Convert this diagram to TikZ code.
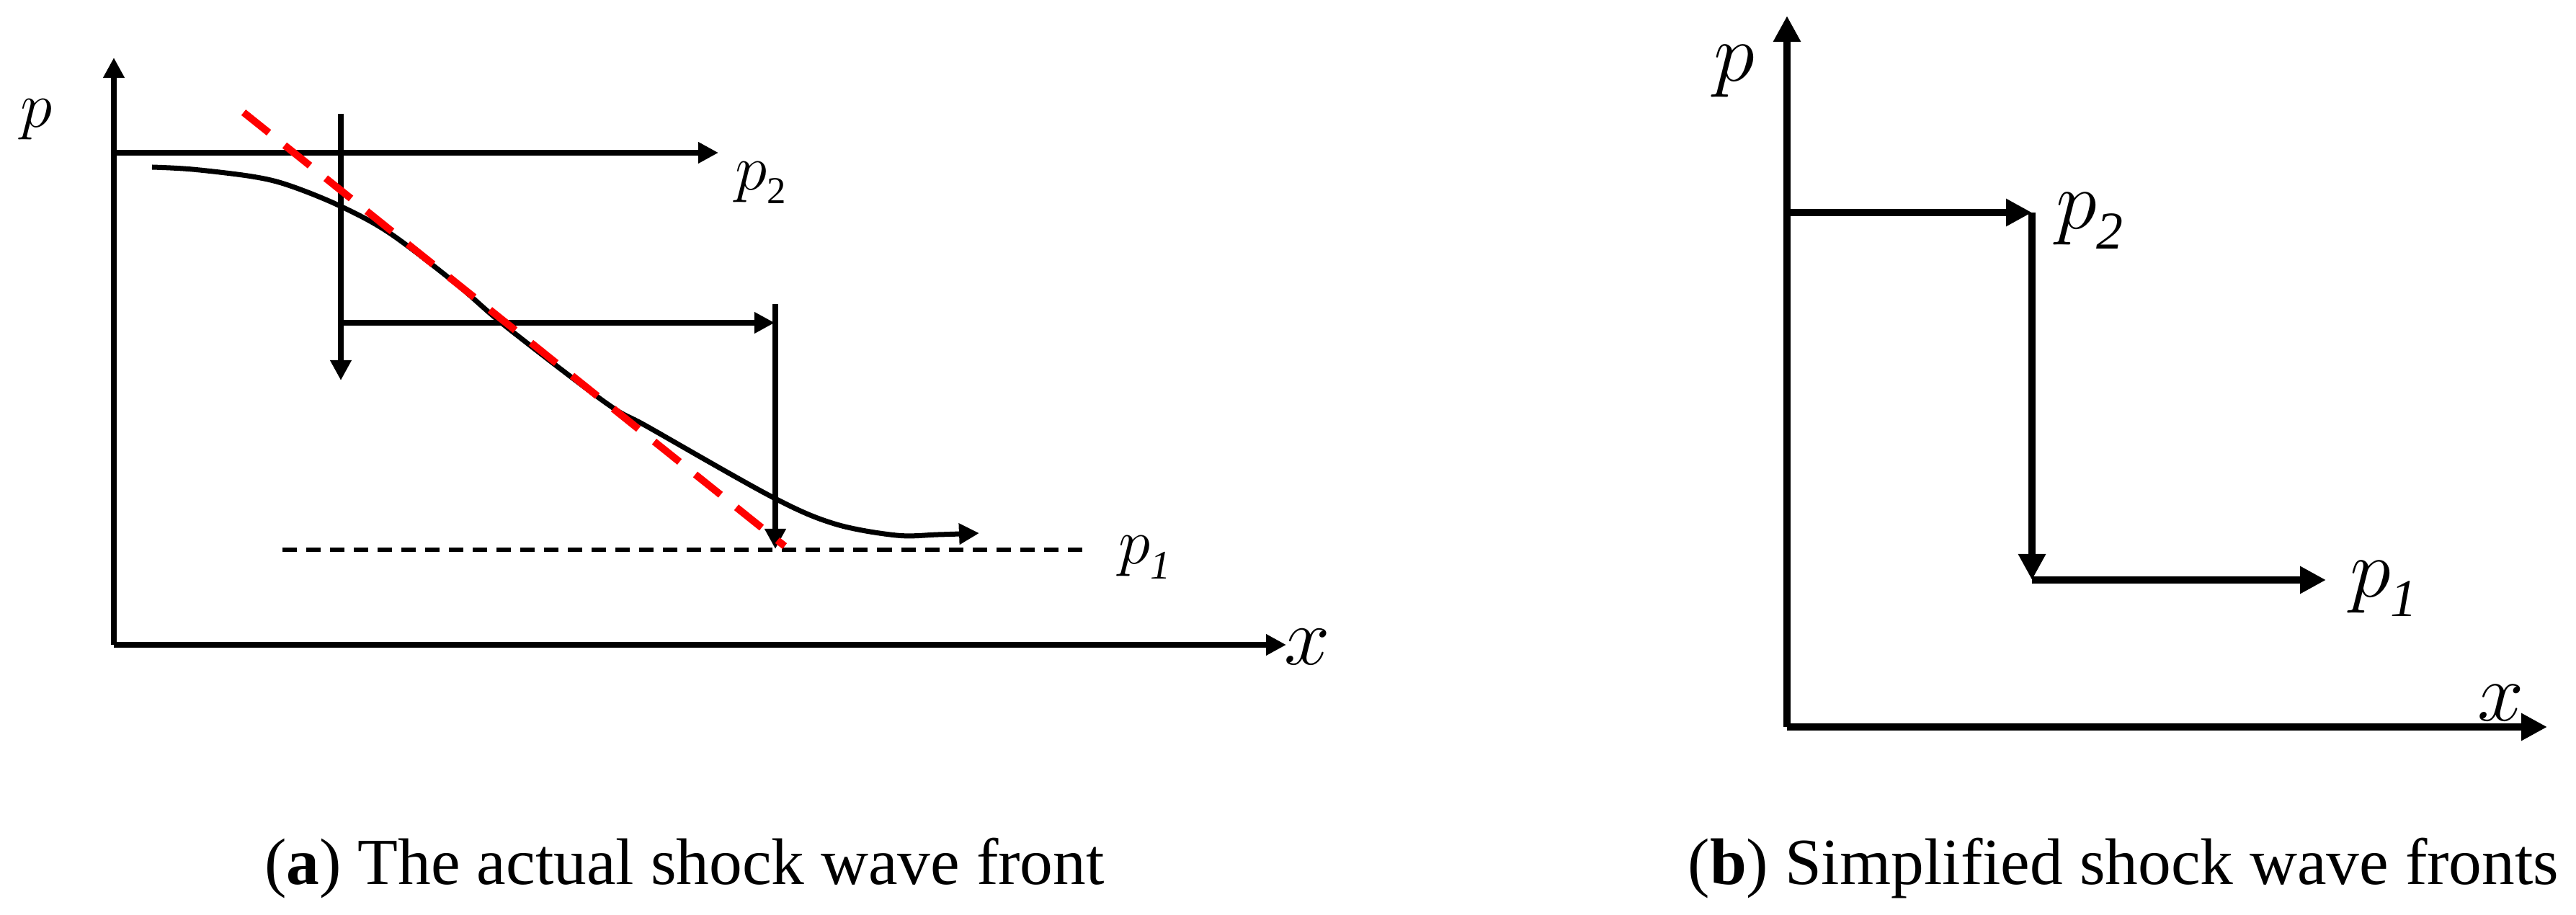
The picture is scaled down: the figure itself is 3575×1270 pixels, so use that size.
\RequirePackage{fix-cm}
\documentclass[tikz,border=0pt]{standalone}
\usepackage{fontspec}
\setmainfont{Liberation Serif}
\usetikzlibrary{arrows.meta}
\newcommand{\fsA}{\fontsize{25.5}{30}\selectfont}
\newcommand{\fsB}{\fontsize{32.8}{39}\selectfont}
\newcommand{\fsCap}{\fontsize{26}{31}\selectfont}
\newcommand{\mysub}[3]{\raisebox{#1}{\fontsize{#2}{#2}\selectfont #3}}
\begin{document}
\begin{tikzpicture}[x=0.01cm,y=-0.01cm,
  lineA/.style={line width=0.08cm},
  tipA/.style={-{Triangle[length=0.28cm,width=0.28cm]}},
  lineB/.style={line width=0.095cm},
  tipB/.style={-{Triangle[length=0.36cm,width=0.36cm]}},
  lab/.style={anchor=base west, inner sep=0pt, outer sep=0pt},
  captext/.style={anchor=base, inner sep=0pt, outer sep=0pt, font=\fsCap},
  reddash/.style={draw=red, line width=0.1cm, dash pattern=on 0.45cm off 0.28cm},
  thindash/.style={line width=0.06cm, dash pattern=on 0.2cm off 0.13cm}]
\useasboundingbox (0,0) rectangle (3575,1270);

% ---------- panel (a) ----------
\coordinate (aO) at (158,895);
\coordinate (aY) at (158,80);
\coordinate (aX) at (1785,895);
\draw[lineA,tipA] (aO) -- (aY);
\draw[lineA,tipA] (aO) -- (aX);

\coordinate (aP2s) at (158,212);
\coordinate (aP2e) at (997,212);
\draw[lineA,tipA] (aP2s) -- (aP2e);

\coordinate (aV1s) at (473,158);
\coordinate (aV1e) at (473,528);
\draw[lineA,tipA] (aV1s) -- (aV1e);

\coordinate (aH2s) at (473,448);
\coordinate (aH2e) at (1075,448);
\draw[lineA,tipA] (aH2s) -- (aH2e);

\coordinate (aV2s) at (1076,422);
\coordinate (aV2e) at (1076,762);
\draw[lineA,tipA] (aV2s) -- (aV2e);

\coordinate (aDs) at (392,763);
\coordinate (aDe) at (1514,763);
\draw[thindash] (aDs) -- (aDe);

\draw[line width=0.07cm,tipA] plot[smooth, tension=0.55] coordinates {
  (211,232) (267,235) (350,245) (400,257) (470,285) (540,323) (632,393)
  (702,453) (842,560) (900,593) (1072,690) (1158,727) (1244,743) (1302,742) (1359,740)};

\coordinate (aRs) at (338,156);
\coordinate (aRe) at (1089,758);
\draw[reddash] (aRs) -- (aRe);

\node[lab,font=\fsA] (apl) at (28,177) {$p$};
\node[lab,font=\fsA] (ap2) at (1020,264) {$p$\mysub{-0.18cm}{15}{2}};
\node[lab,font=\fsA] (ap1) at (1552,782) {$p$\mysub{-0.21cm}{16}{\itshape 1}};
\node[lab,font=\fontsize{32.4}{39}\selectfont] (axl) at (1782,922) {$x$};

% ---------- panel (b) ----------
\coordinate (bO) at (2480,1009);
\coordinate (bY) at (2480,22);
\coordinate (bX) at (3535,1009);
\draw[lineB,tipB] (bO) -- (bY);
\draw[lineB,tipB] (bO) -- (bX);

\coordinate (bP2s) at (2480,295);
\coordinate (bC1) at (2820,295);
\coordinate (bC2) at (2820,805);
\coordinate (bP1e) at (3228,805);
\draw[lineB,tipB] (bP2s) -- (bC1);
\draw[lineB,tipB] (bC1) -- (bC2);
\draw[lineB,tipB] (bC2) -- (bP1e);

\node[lab,font=\fsB] (bpl) at (2378,113) {$p$};
\node[lab,font=\fsB] (bp2) at (2853,318) {$p$\mysub{-0.27cm}{21}{\itshape 2}};
\node[lab,font=\fsB] (bp1) at (3261,828) {$p$\mysub{-0.27cm}{21}{\itshape 1}};
\node[lab,font=\fsB] (bxl) at (3438,1000) {$x$};

% ---------- captions ----------
\node[captext] (capa) at (950,1227) {(\textbf{a}) The actual shock wave front};
\node[captext] (capb) at (2947,1227) {(\textbf{b}) Simplified shock wave fronts};
\end{tikzpicture}
\end{document}
